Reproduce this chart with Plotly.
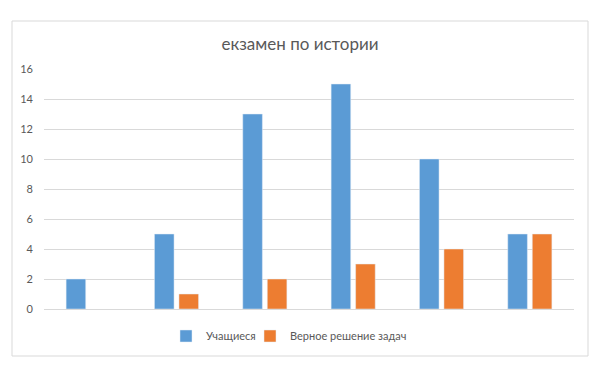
import plotly.graph_objects as go

categories = ["1", "2", "3", "4", "5", "6"]
students = [2, 5, 13, 15, 10, 5]
correct = [None, 1, 2, 3, 4, 5]
y_ticks = [0, 2, 4, 6, 8, 10, 12, 14, 16]

# page body has an 8px margin; lay out in window coordinates minus that offset
OFF = 8
W, H = 606 - OFF, 386 - 2 * OFF
L, R, T, B = 44 - OFF, 574 - OFF, 69 - OFF, 309 - OFF
pw, ph = R - L, B - T

fig = go.Figure()
fig.add_trace(go.Bar(x=categories, y=students, name="Учащиеся", marker_color="#5B9BD5",
                     legend="legend"))
fig.add_trace(go.Bar(x=categories, y=correct, name="Верное решение задач", marker_color="#ED7D31",
                     legend="legend2"))

fnt = "Lato, Calibri, Carlito, sans-serif"
leg_common = dict(orientation="h", xanchor="left", y=(309 - 336) / ph, yanchor="middle",
                  itemwidth=30, font=dict(family=fnt, size=11, color="#595959"),
                  bgcolor="rgba(0,0,0,0)")
fig.update_layout(
    width=W, height=H,
    margin=dict(l=L, r=W - R, t=T, b=H - B, pad=0),
    paper_bgcolor="white", plot_bgcolor="white",
    barmode="group", bargap=0.445, bargroupgap=0.2,
    title=dict(text="екзамен по истории", x=(300 - OFF) / W, xanchor="center", xref="container",
               y=1 - (44 - OFF) / H, yanchor="middle", yref="container",
               font=dict(family=fnt, size=17, color="#595959")),
    font=dict(family=fnt, size=11, color="#595959"),
    showlegend=True,
    legend=dict(x=(166 - 44) / pw, **leg_common),
    legend2=dict(x=(250 - 44) / pw, **leg_common),
    xaxis=dict(showticklabels=False, showgrid=False, zeroline=False, showline=False, ticks=""),
    yaxis=dict(range=[0, 16], tickvals=y_ticks, showgrid=True, gridcolor="#D9D9D9", gridwidth=1,
               zeroline=True, zerolinecolor="#D9D9D9", zerolinewidth=1, showline=False, ticks="",
               ticklabelstandoff=10, tickfont=dict(size=11, color="#595959")),
)

fig.add_shape(type="rect", xref="paper", yref="paper",
              x0=(12 - 44) / pw, x1=(588 - 44) / pw, y0=(309 - 356) / ph, y1=(309 - 21) / ph,
              line=dict(color="#D9D9D9", width=1), fillcolor="rgba(0,0,0,0)", layer="below")

fig.write_html("out.html")
